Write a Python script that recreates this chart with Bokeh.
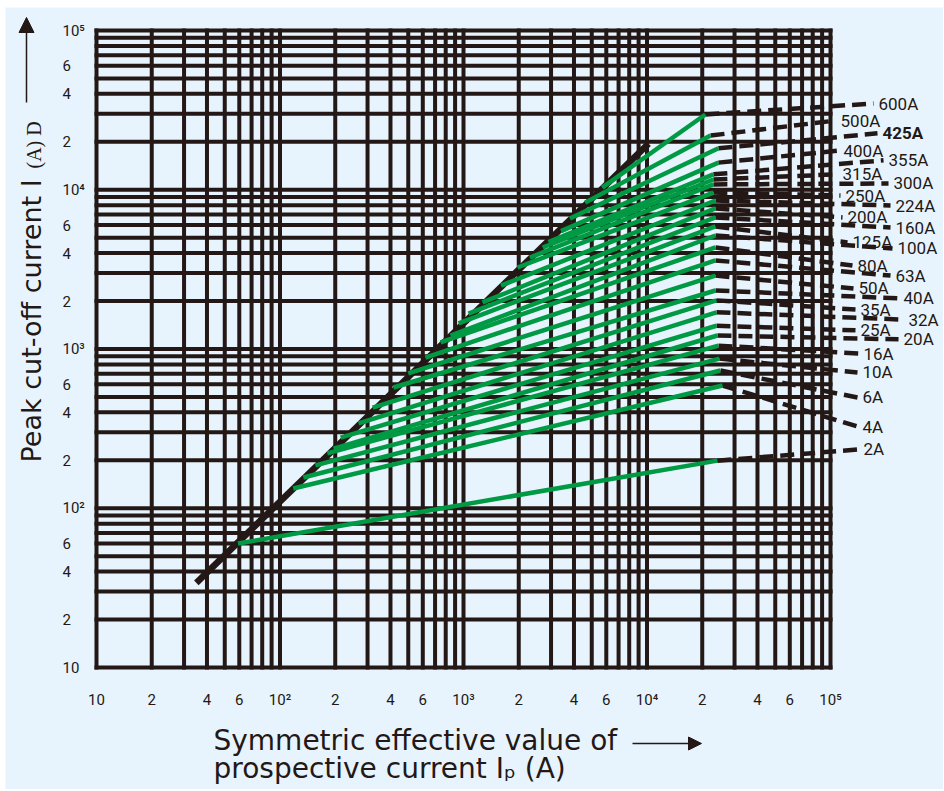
import math
from bokeh.plotting import figure
from bokeh.models import Range1d, Arrow, NormalHead, ColumnDataSource
from bokeh.core.properties import value, field
from bokeh.embed import file_html
from bokeh.resources import INLINE

# ---------------- data ----------------
ratings = ["600A", "500A", "425A", "400A", "355A", "315A", "300A", "250A", "224A",
           "200A", "160A", "125A", "100A", "80A", "63A", "50A", "40A", "35A", "32A",
           "25A", "20A", "16A", "10A", "6A", "4A", "2A"]
# start of each characteristic on the envelope (prospective current, peak current)
ip_start = [5700, 4600, 3800, 3400, 2900, 2700, 2300, 1970, 1600, 1270, 1065, 940, 850,
            750, 620, 500, 415, 320, 268, 214, 196, 181, 156, 134, 118, 59]
ic_start = [10300, 8300, 6600, 5500, 4700, 4340, 3750, 3250, 2500, 1960, 1670, 1450, 1215,
            1100, 884, 702, 573, 429, 341, 278, 237, 221, 186, 156, 133, 60]
# end of the solid (green) part
ip_end = [20800, 22200, 24500, 24500, 23000, 23000, 23000, 23000, 23600, 23600, 23600,
          23600, 23600, 23600, 23600, 23600, 23600, 23900, 23900, 23900, 24200, 24500,
          24800, 25100, 25800, 24200]
ic_end = [29700, 21900, 18200, 14800, 12500, 11600, 10800, 9600, 8560, 7630, 6700, 5880,
          5160, 4340, 3600, 2890, 2330, 2020, 1700, 1400, 1215, 1050, 870, 733, 590, 199]
# where each dashed extension reaches its rating label
lbl_ip = [182600, 113400, 192000, 117700, 207100, 116300, 220500, 120700, 226100, 123800,
          226100, 131800, 231800, 140300, 226100, 142100, 250000, 145700, 266100, 145700,
          250000, 151300, 149400, 149400, 149400, 151300]
lbl_ic = [34800, 27200, 22600, 17600, 15300, 12500, 10950, 9200, 7960, 6700, 5790, 4670,
          4280, 3340, 2890, 2400, 2080, 1770, 1530, 1310, 1150, 937, 712, 496, 326, 234]
# cut-off envelope line
envelope_ip = [35, 10200]
envelope_ic = [34, 19500]

x_ticks = [10, 20, 40, 60, 100, 200, 400, 600, 1000, 2000, 4000, 6000,
           10000, 20000, 40000, 60000, 100000]
x_tick_labels = ["10", "2", "4", "6", "10²", "2", "4", "6", "10³", "2", "4", "6",
                 "10⁴", "2", "4", "6", "10⁵"]
y_ticks = [10, 20, 40, 60, 100, 200, 400, 600, 1000, 2000, 4000, 6000,
           10000, 20000, 40000, 60000, 100000]
y_tick_labels = ["10", "2", "4", "6", "10²", "2", "4", "6", "10³", "2", "4", "6",
                 "10⁴", "2", "4", "6", "10⁵"]
grid_values = [m * 10 ** e for e in range(1, 5) for m in range(1, 10)] + [100000]

x_title = ["Symmetric effective value of", "prospective current Iₚ (A)"]
y_title = "Peak cut-off current I"
y_title_unit = "(A) D"

# ---------------- styling / geometry ----------------
BG = "#e8f4fd"
INK = "#231815"
GREEN = "#009a44"

# page-pixel geometry of the log axes in the reference
X10_PX, XDEC = 96.0, 183.5
Y10_PX, YDEC = 667.0, 159.25
FIG_LEFT, FIG_TOP = 5, 7
W, H = 938, 782


def dx(px):
    return 10 ** (1 + (px - X10_PX) / XDEC)


def dy(py):
    return 10 ** (1 + (Y10_PX - py) / YDEC)


p = figure(width=W, height=H, x_axis_type="log", y_axis_type="log",
           x_axis_location=None, y_axis_location=None,
           x_range=Range1d(dx(FIG_LEFT), dx(FIG_LEFT + W)),
           y_range=Range1d(dy(FIG_TOP + H), dy(FIG_TOP)),
           output_backend="svg", toolbar_location=None, min_border=0,
           margin=(FIG_TOP, 0, 0, FIG_LEFT))
p.background_fill_color = BG
p.border_fill_color = BG
p.outline_line_color = None
p.grid.visible = False

# grid limited to the 10 .. 1e5 square
n = len(grid_values)
gmin, gmax = grid_values[0], grid_values[-1]
p.segment(x0=grid_values, y0=[gmin] * n, x1=grid_values, y1=[gmax] * n,
          line_color=INK, line_width=4, line_cap="square")
p.segment(x0=[gmin] * n, y0=grid_values, x1=[gmax] * n, y1=grid_values,
          line_color=INK, line_width=4, line_cap="square")

# tick labels (log-scale positions)
p.text(x=x_ticks, y=[dy(699)] * len(x_ticks), text=x_tick_labels,
       text_font=value("Roboto"), text_font_size="15px", text_color=INK,
       text_align="center", text_baseline="middle")
p.text(x=[dx(62)] * len(y_ticks), y=y_ticks, text=y_tick_labels,
       text_font=value("Roboto"), text_font_size="15px", text_color=INK,
       text_align="left", text_baseline="middle")

# envelope
p.line(envelope_ip, envelope_ic, line_color=INK, line_width=6.5)

shrink = 10 ** (-5 / XDEC)
src = ColumnDataSource(dict(
    x0=ip_start, y0=ic_start, x1=ip_end, y1=ic_end,
    xd=[v * shrink for v in lbl_ip], lx=lbl_ip, ly=lbl_ic, label=ratings,
    style=["bold" if r == "425A" else "normal" for r in ratings],
))

p.segment(x0="x1", y0="y1", x1="xd", y1="ly", source=src, line_color=INK,
          line_width=4.5, line_dash="14 7")
p.segment(x0="x0", y0="y0", x1="x1", y1="y1", source=src, line_color=GREEN,
          line_width=4.5)
p.text(x="lx", y="ly", text="label", source=src, text_font=value("Roboto"),
       text_font_size="17px", text_baseline="middle", text_align="left",
       text_color=INK, text_font_style=field("style"))

# axis titles
p.text(x=[dx(31)], y=[dy(462)], text=[y_title], angle=math.pi / 2,
       text_align="left", text_baseline="middle", text_font=value("DejaVu Sans"),
       text_font_size="27px", text_color=INK)
p.text(x=[dx(33)], y=[dy(168)], text=[y_title_unit], angle=math.pi / 2,
       text_align="left", text_baseline="middle", text_font=value("Liberation Serif"),
       text_font_size="20px", text_color=INK)
p.add_layout(Arrow(x_start=dx(26), y_start=dy(102), x_end=dx(26), y_end=dy(17),
                   line_color=INK, line_width=1.5,
                   end=NormalHead(size=15, fill_color=INK, line_color=INK)))

p.text(x=[dx(213), dx(213)], y=[dy(740), dy(768)], text=x_title,
       text_align="left", text_baseline="alphabetic", text_font=value("DejaVu Sans"),
       text_font_size="28px", text_color=INK)
p.add_layout(Arrow(x_start=dx(632), y_start=dy(743), x_end=dx(701), y_end=dy(743),
                   line_color=INK, line_width=1.5,
                   end=NormalHead(size=13, fill_color=INK, line_color=INK)))

open("out.html", "w").write(file_html(p, INLINE))
